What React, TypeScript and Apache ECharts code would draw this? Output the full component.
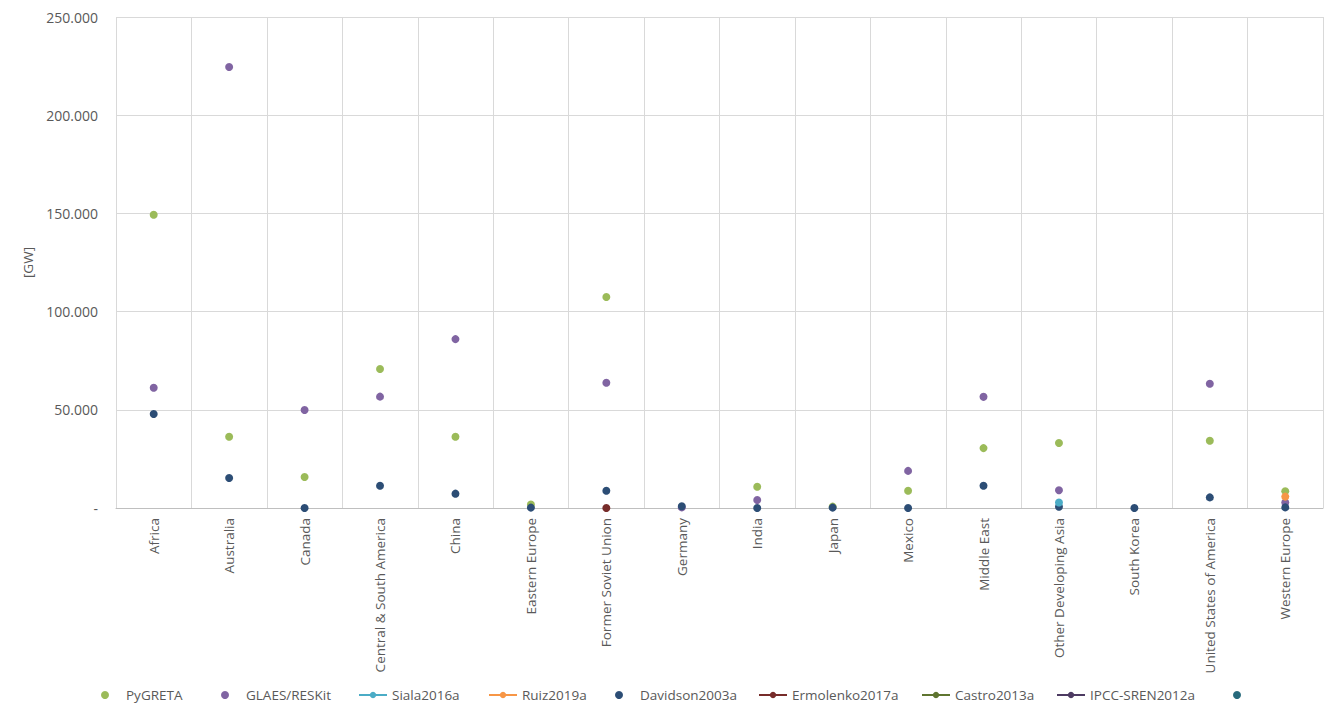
import React, { useEffect, useRef } from "react";
import * as echarts from "echarts";

const categories = [
  "Africa", "Australia", "Canada", "Central & South America", "China", "Eastern Europe",
  "Former Soviet Union", "Germany", "India", "Japan", "Mexico", "Middle East",
  "Other Developing Asia", "South Korea", "United States of America", "Western Europe",
];

const pygreta = [149300, 36300, 15800, 70800, 36300, 1800, 107400, null, 10800, 700, 8800, 30500, 33100, null, 34200, 8500];
const glaes = [61200, 224500, 49900, 56700, 86000, null, 63800, 300, 4100, null, 18900, 56600, 9000, null, 63300, 2800];
const siala = [null, null, null, null, null, null, null, null, null, null, null, null, 2800, null, null, null];
const ruiz = [null, null, null, null, null, null, null, null, null, null, null, null, null, null, null, 5800];
const davidson = [47900, 15300, 0, 11300, 7300, 200, 8800, 900, 0, 200, 0, 11300, 600, 0, 5400, 300];
const ermolenko = [null, null, null, null, null, null, 0, null, null, null, null, null, null, null, null, null];
const castro = [null, null, null, null, null, null, null, null, null, null, null, null, null, null, null, null];
const ipcc = [null, null, null, null, null, null, null, null, null, null, null, null, null, null, null, null];
const unnamed = [null, null, null, null, null, null, null, null, null, null, null, null, null, null, null, null];

const yTicks = { min: 0, max: 250000, interval: 50000 };

const FONT = "'Open Sans', 'Noto Sans', sans-serif";
const GREY = "#595959";

function fmt(v: number): string {
  if (v === 0) return "-";
  const s = Math.round(v).toString();
  return s.replace(/\B(?=(\d{3})+(?!\d))/g, ".");
}

export default function App() {
  const ref = useRef<HTMLDivElement>(null);
  useEffect(() => {
    if (!ref.current) return;
    const chart = echarts.init(ref.current, null, { renderer: "svg" });

    const scatterS = (name: string, data: any[], color: string) => ({
      name,
      type: "scatter",
      data,
      symbol: "circle",
      symbolSize: 8,
      itemStyle: { color, opacity: 1 },
    });
    const lineS = (name: string, data: any[], color: string) => ({
      name,
      type: "line",
      data,
      symbol: "circle",
      symbolSize: 8,
      showSymbol: true,
      connectNulls: false,
      lineStyle: { color, width: 2.5 },
      itemStyle: { color, borderWidth: 0 },
    });

    // [name, left, iconWidth]
    const legendDefs: [string, number, number][] = [
      ["PyGRETA", 96, 32],
      ["GLAES/RESKit", 216, 32],
      ["Siala2016a", 353, 28],
      ["Ruiz2019a", 483, 28],
      ["Davidson2003a", 610, 32],
      ["Ermolenko2017a", 753, 28],
      ["Castro2013a", 916, 28],
      ["IPCC-SREN2012a", 1051, 28],
      [" ", 1228, 32],
    ];

    chart.setOption({
      animation: false,
      textStyle: { fontFamily: FONT },
      grid: { left: 116, right: 16, top: 17, bottom: 210, containLabel: false },
      legend: legendDefs.map(([name, left, w]) => ({
        data: [name],
        left,
        top: 683,
        itemWidth: w,
        itemHeight: 8,
        itemGap: 0,
        textStyle: { color: GREY, fontSize: 13.5, fontFamily: FONT },
        selectedMode: false,
      })),
      xAxis: {
        type: "category",
        data: categories,
        boundaryGap: true,
        axisLine: { show: true, lineStyle: { color: "#BFBFBF", width: 1 } },
        axisTick: { show: false },
        splitLine: { show: true, lineStyle: { color: "#D9D9D9", width: 1 } },
        axisLabel: { rotate: 90, color: GREY, fontSize: 13.5, fontFamily: FONT, margin: 10, interval: 0 },
      },
      yAxis: {
        type: "value",
        min: yTicks.min,
        max: yTicks.max,
        interval: yTicks.interval,
        name: "[GW]",
        nameLocation: "middle",
        nameGap: 80,
        nameRotate: 90,
        nameTextStyle: { color: GREY, fontSize: 13.5, fontFamily: FONT },
        axisLine: { show: false },
        axisTick: { show: false },
        splitLine: { show: true, lineStyle: { color: "#D9D9D9", width: 1 } },
        axisLabel: { color: GREY, fontSize: 14, fontFamily: FONT, margin: 18, formatter: (v: number) => fmt(v) },
      },
      series: [
        scatterS("PyGRETA", pygreta, "#9BBB59"),
        scatterS("GLAES/RESKit", glaes, "#8064A2"),
        lineS("Siala2016a", siala, "#4BACC6"),
        lineS("Ruiz2019a", ruiz, "#F79646"),
        scatterS("Davidson2003a", davidson, "#2C4D75"),
        lineS("Ermolenko2017a", ermolenko, "#772C2A"),
        lineS("Castro2013a", castro, "#5F7530"),
        lineS("IPCC-SREN2012a", ipcc, "#4D3B62"),
        scatterS(" ", unnamed, "#276A7C"),
      ],
    });
    return () => chart.dispose();
  }, []);

  return <div ref={ref} style={{ width: 1339, height: 718, position: "absolute", left: 0, top: 0, background: "#fff" }} />;
}
